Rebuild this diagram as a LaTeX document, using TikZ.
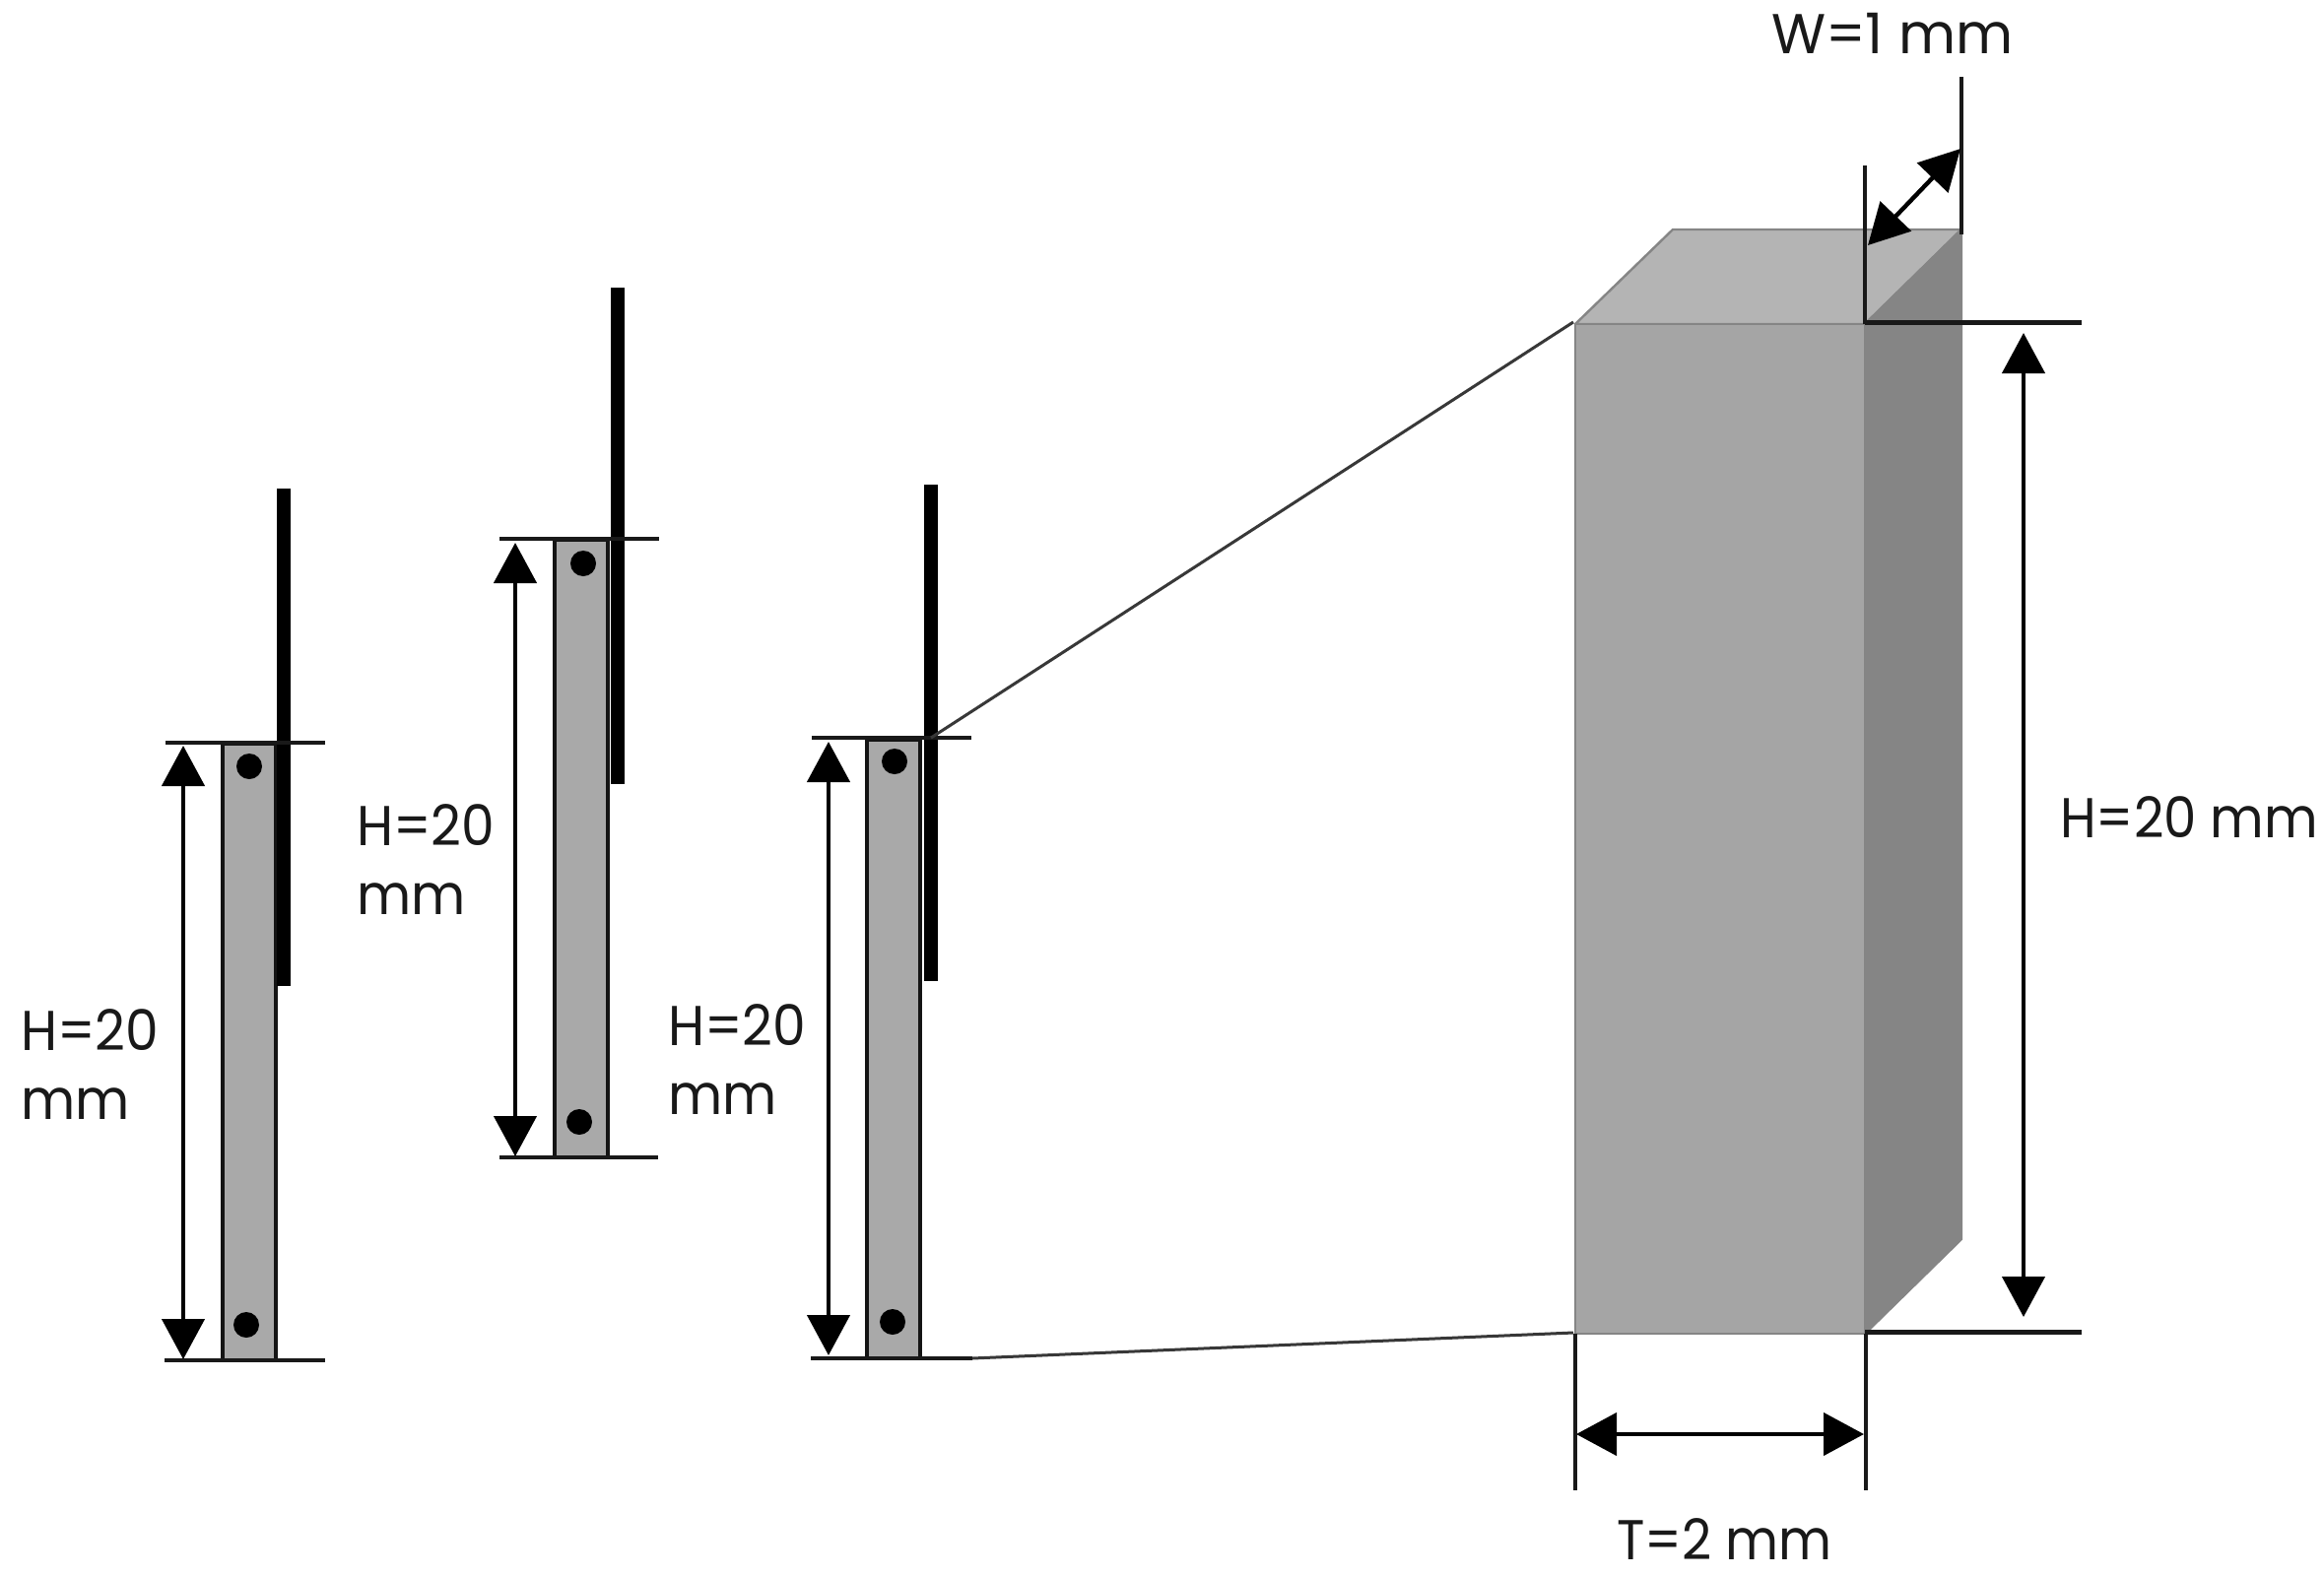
\documentclass[tikz,border=0pt]{standalone}
\usepackage{fontspec}
\setmainfont{Poppins}
\usetikzlibrary{arrows.meta}
\tikzset{
  dimline/.style={line width=4pt,color=black!90,line cap=butt},
  dimarrow/.style={line width=4.4pt,color=black,{Triangle[length=41pt,width=43pt]}-{Triangle[length=41pt,width=43pt]},shorten >=0pt,shorten <=0pt},
  plate/.style={draw=black!92,line width=4.6pt,fill=platefill,outer sep=0pt,inner sep=0pt,anchor=north west},
  bar/.style={line width=14pt,color=black},
  hole/.style={fill=black,draw=none,circle,minimum size=26pt,inner sep=0pt},
  zoomline/.style={line width=3pt,color=black!78},
  faceedge/.style={draw=black!48,line width=2.4pt,line join=round},
  lbl/.style={anchor=base west,inner sep=0pt,outer sep=0pt,color=black!90,font=\fontsize{57}{70}\selectfont},
}
\definecolor{platefill}{HTML}{A9A9A9}
\definecolor{frontfill}{HTML}{A5A5A5}
\definecolor{topfill}{HTML}{B4B4B4}
\definecolor{sidefill}{HTML}{858585}
\newcommand{\squeezed}[2]{\scalebox{#1}[1]{#2}}
\begin{document}
\begin{tikzpicture}[x=1pt,y=-1pt]
\fill[white] (0,0) rectangle (2359,1600);
\useasboundingbox (0,0) rectangle (2359,1600);

% block corners
\coordinate (fTL) at (1599,329);
\coordinate (fTR) at (1893,329);
\coordinate (fBL) at (1599,1354);
\coordinate (fBR) at (1893,1354);
\coordinate (bTL) at (1698,233);
\coordinate (bTR) at (1991,233);
\coordinate (bBR) at (1991,1258);

\draw[faceedge,fill=topfill] (fTL) -- (bTL) -- (bTR) -- (fTR) -- cycle;
\draw[faceedge,fill=sidefill] (fTR) -- (bTR) -- (bBR) -- (fBR) -- cycle;
\draw[faceedge,fill=frontfill] (fTL) -- (fTR) -- (fBR) -- (fBL) -- cycle;

% specimen A
\node[plate,minimum width=54pt,minimum height=626pt] (plA) at (226,755) {};
\node[hole] (hA1) at (253,778) {};
\node[hole] (hA2) at (250,1345) {};
\coordinate (barAt) at (288,496); \coordinate (barAb) at (288,1001);
\draw[bar] (barAt) -- (barAb);
\coordinate (tA1) at (168,754); \coordinate (tA2) at (330,754);
\coordinate (bA1) at (167,1381); \coordinate (bA2) at (330,1381);
\draw[dimline] (tA1) -- (tA2);
\draw[dimline] (bA1) -- (bA2);
\coordinate (arAt) at (186,757); \coordinate (arAb) at (186,1380);
\draw[dimarrow] (arAt) -- (arAb);

% specimen B
\node[plate,minimum width=54pt,minimum height=627pt] (plB) at (563,548) {};
\node[hole] (hB1) at (592,572) {};
\node[hole] (hB2) at (588,1139) {};
\coordinate (barBt) at (627,292); \coordinate (barBb) at (627,796);
\draw[bar] (barBt) -- (barBb);
\coordinate (tB1) at (507,547); \coordinate (tB2) at (669,547);
\coordinate (bB1) at (507,1175); \coordinate (bB2) at (668,1175);
\draw[dimline] (tB1) -- (tB2);
\draw[dimline] (bB1) -- (bB2);
\coordinate (arBt) at (523,551); \coordinate (arBb) at (523,1174);
\draw[dimarrow] (arBt) -- (arBb);

% specimen C
\node[plate,minimum width=54pt,minimum height=628pt] (plC) at (880,751) {};
\node[hole] (hC1) at (908,773) {};
\node[hole] (hC2) at (906,1342) {};
\coordinate (barCt) at (945,492); \coordinate (barCb) at (945,996);
\draw[bar] (barCt) -- (barCb);
\coordinate (tC1) at (824,749); \coordinate (tC2) at (986,749);
\coordinate (bC1) at (823,1379); \coordinate (bC2) at (987,1379);
\draw[dimline] (tC1) -- (tC2);
\draw[dimline] (bC1) -- (bC2);
\coordinate (arCt) at (841,753); \coordinate (arCb) at (841,1376);
\draw[dimarrow] (arCt) -- (arCb);

% zoom lines
\draw[zoomline] (tC2) ++(-41,0) -- (1597,327);
\draw[zoomline] (bC2) -- (1597,1353);

% block dimensions
\coordinate (wL1) at (1893,168); \coordinate (wL2) at (1893,329);
\coordinate (wR1) at (1991,78);  \coordinate (wR2) at (1991,238);
\draw[dimline,line width=4.4pt] (wL1) -- (wL2);
\draw[dimline,line width=4.4pt] (wR1) -- (wR2);
\coordinate (wA1) at (1896,249); \coordinate (wA2) at (1990,151);
\draw[dimarrow] (wA1) -- (wA2);

\coordinate (hT) at (2113,327); \coordinate (hB) at (2113,1352);
\draw[dimline,line width=5pt] (fTR) ++(0,-2) -- (hT);
\draw[dimline,line width=5pt] (fBR) ++(0,-2) -- (hB);
\coordinate (hAt) at (2054,338); \coordinate (hAb) at (2054,1337);
\draw[dimarrow] (hAt) -- (hAb);

\coordinate (tL1) at (1599,1354); \coordinate (tL2) at (1599,1513);
\coordinate (tR1) at (1894,1354); \coordinate (tR2) at (1894,1513);
\draw[dimline] (tL1) -- (tL2);
\draw[dimline] (tR1) -- (tR2);
\coordinate (tAl) at (1600,1456); \coordinate (tAr) at (1892,1456);
\draw[dimarrow] (tAl) -- (tAr);

% labels
\node[lbl] (lA1) at (21,1066) {\squeezed{0.94}{H=20}};
\node[lbl] (lA2) at (21,1136) {\squeezed{0.94}{mm}};
\node[lbl] (lB1) at (362,858) {\squeezed{0.94}{H=20}};
\node[lbl] (lB2) at (362,928) {\squeezed{0.94}{mm}};
\node[lbl] (lC1) at (678,1061) {\squeezed{0.94}{H=20}};
\node[lbl] (lC2) at (678,1131) {\squeezed{0.94}{mm}};
\node[lbl] (lH) at (2091,850) {\squeezed{0.93}{H=20 mm}};
\node[lbl] (lW) at (1798,55) {\squeezed{0.99}{W=1 mm}};
\node[lbl] (lT) at (1641,1583) {\squeezed{0.92}{T=2 mm}};
\end{tikzpicture}
\end{document}
